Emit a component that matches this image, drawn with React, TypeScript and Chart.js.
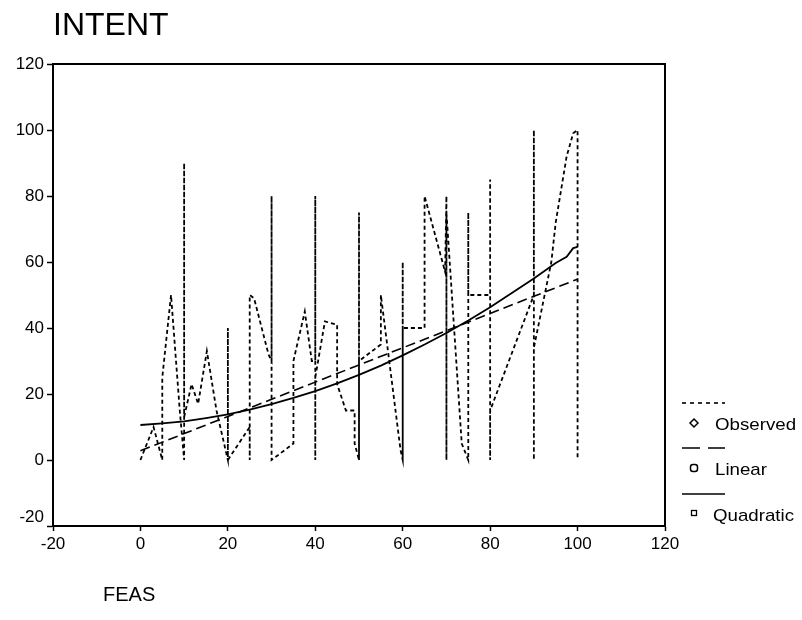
import React, { useEffect, useRef } from 'react';
import { Chart, registerables } from 'chart.js';
Chart.register(...registerables);

// Observed points (FEAS, INTENT), in plotting order
const obsX = [0, 3, 5, 5, 7, 9, 10, 10, 10, 11.7, 13.2, 15.2, 17.4, 20, 20, 20, 25, 25, 25, 26, 29.3, 30, 30, 30, 35, 35, 37.6, 39.2, 40, 40, 40, 40, 42.2, 45, 45, 47, 49, 49, 50, 50, 50, 50, 55, 55, 59.5, 60, 60, 60, 60, 65, 65, 69.7, 70, 70, 70, 72.7, 73.5, 75, 75, 75, 79, 80, 80, 80, 80, 90, 90, 90, 90, 94, 95, 97.5, 99, 100, 100];
const obsY = [0, 10, 0, 25, 50, 15, 0, 90, 13, 23, 17, 33, 15, 0, 40, 0, 10, 0, 50, 49, 32, 30, 80, 0, 5, 30, 45, 30, 30, 80, 0, 25, 42, 41, 23, 15, 15, 5, 0, 75, 0, 30, 35, 50, 3, 0, 60, 0, 40, 40, 80, 57, 80, 0, 75, 21, 5, 0, 75, 50, 50, 50, 85, 0, 15, 50, 100, 0, 34, 60, 72, 92, 99, 100, 0];

// Linear fit
const linX = [0, 10, 20, 30, 40, 50, 60, 70, 80, 90, 100];
const linY = [2.8, 8.0, 13.2, 18.4, 23.6, 28.8, 34.0, 39.2, 44.4, 49.6, 54.8];

// Quadratic fit
const quadX = [0, 5, 10, 15, 20, 25, 30, 35, 40, 45, 50, 55, 60, 65, 70, 75, 80, 90, 95, 97.5, 99, 100];
const quadY = [10.6, 11.1, 11.7, 12.7, 13.8, 15.3, 16.9, 18.8, 20.9, 23.2, 25.8, 28.6, 31.7, 35.0, 38.5, 42.3, 46.3, 55.0, 59.7, 61.6, 64.2, 64.6];

const xTicks = [-20, 0, 20, 40, 60, 80, 100, 120];
const yTicks = [-20, 0, 20, 40, 60, 80, 100, 120];
const legendLabels = ['Observed', 'Linear', 'Quadratic'];
const yTitle = 'INTENT';
const xTitle = 'FEAS';

const FONT = 'Arial, "Liberation Sans", sans-serif';

export default function App() {
  const ref = useRef<HTMLCanvasElement | null>(null);

  useEffect(() => {
    if (!ref.current) return;
    const toPts = (xs: number[], ys: number[]) => xs.map((x, i) => ({ x, y: ys[i] }));

    const framePlugin = {
      id: 'frame',
      afterDraw(chart: any) {
        const { ctx, chartArea: a } = chart;
        const yScale = chart.scales.y;
        ctx.save();
        ctx.strokeStyle = '#000';
        ctx.lineWidth = 2;
        ctx.setLineDash([]);
        ctx.beginPath();
        ctx.moveTo(a.left, a.top);
        ctx.lineTo(a.right, a.top);
        ctx.lineTo(a.right, a.bottom);
        ctx.stroke();

        ctx.fillStyle = '#000';
        // lowest y tick label, lifted above the x-axis corner
        ctx.font = `17px ${FONT}`;
        ctx.textAlign = 'right';
        ctx.textBaseline = 'middle';
        ctx.fillText(String(yTicks[0]), a.left - 9, yScale.getPixelForValue(yTicks[0]) - 9);

        ctx.textAlign = 'left';
        ctx.textBaseline = 'alphabetic';
        ctx.font = `32px ${FONT}`;
        ctx.fillText(yTitle, 53, 35);
        ctx.font = `20px ${FONT}`;
        ctx.fillText(xTitle, 103, 601);

        // legend
        const lx0 = 682, lx1 = 725;
        const styles = [[4, 4], [18, 8], []];
        const lineYs = [403, 448, 494];
        const textYs = [424, 469, 515];
        ctx.lineWidth = 1.6;
        for (let i = 0; i < 3; i++) {
          ctx.setLineDash(styles[i]);
          ctx.beginPath();
          ctx.moveTo(lx0, lineYs[i]);
          ctx.lineTo(lx1, lineYs[i]);
          ctx.stroke();
        }
        ctx.setLineDash([]);
        ctx.lineWidth = 1.5;
        // diamond
        ctx.beginPath();
        ctx.moveTo(694, 423 - 4);
        ctx.lineTo(698, 423);
        ctx.lineTo(694, 423 + 4);
        ctx.lineTo(690, 423);
        ctx.closePath();
        ctx.stroke();
        // rounded square
        ctx.beginPath();
        (ctx as any).roundRect(690.5, 464.5, 7, 7, 2.5);
        ctx.stroke();
        // small square
        ctx.lineWidth = 1.3;
        ctx.strokeRect(691.5, 510.5, 5, 5);

        ctx.font = `17px ${FONT}`;
        ctx.textBaseline = 'middle';
        const lxs = [715, 715, 713];
        for (let i = 0; i < 3; i++) {
          ctx.save();
          ctx.translate(lxs[i], textYs[i] + 1);
          ctx.scale(1.1, 1);
          ctx.fillText(legendLabels[i], 0, 0);
          ctx.restore();
        }
        ctx.restore();
      },
    };

    const tickFont = { family: FONT, size: 17 };

    const chart = new Chart(ref.current, {
      type: 'scatter',
      data: {
        datasets: [
          {
            label: legendLabels[0],
            data: toPts(obsX, obsY),
            showLine: true,
            borderColor: '#000',
            borderWidth: 1.8,
            borderDash: [4, 3],
            pointRadius: 0,
            tension: 0,
          },
          {
            label: legendLabels[1],
            data: toPts(linX, linY),
            showLine: true,
            borderColor: '#000',
            borderWidth: 1.6,
            borderDash: [10, 5],
            pointRadius: 0,
          },
          {
            label: legendLabels[2],
            data: toPts(quadX, quadY),
            showLine: true,
            borderColor: '#000',
            borderWidth: 1.8,
            pointRadius: 0,
          },
        ],
      },
      options: {
        responsive: false,
        animation: false,
        layout: { padding: { left: 0, top: 64, right: 137, bottom: 54 } },
        plugins: {
          legend: { display: false },
          tooltip: { enabled: false },
          title: { display: false },
        },
        scales: {
          x: {
            type: 'linear',
            min: -20,
            max: 120,
            afterBuildTicks: (s: any) => { s.ticks = xTicks.map((v) => ({ value: v })); },
            afterFit: (s: any) => { s.height = 40; },
            ticks: { color: '#000', font: tickFont, padding: 3, maxRotation: 0, autoSkip: false },
            grid: { display: true, drawOnChartArea: false, drawTicks: true, tickLength: 5, color: '#000', tickColor: '#000', tickWidth: 1.5 },
            border: { display: true, color: '#000', width: 2 },
          },
          y: {
            type: 'linear',
            min: -20,
            max: 120,
            afterBuildTicks: (s: any) => { s.ticks = yTicks.map((v) => ({ value: v })); },
            afterFit: (s: any) => { s.width = 53; },
            ticks: {
              color: '#000',
              font: tickFont,
              padding: 3,
              autoSkip: false,
              callback: (v: any) => (v === yTicks[0] ? '' : String(v)),
            },
            grid: { display: true, drawOnChartArea: false, drawTicks: true, tickLength: 6, color: '#000', tickColor: '#000', tickWidth: 1.5 },
            border: { display: true, color: '#000', width: 2 },
          },
        },
      },
      plugins: [framePlugin],
    } as any);

    return () => chart.destroy();
  }, []);

  return (
    <div style={{ position: 'fixed', left: 0, top: 0, width: 802, height: 620, background: '#fff' }}>
      <canvas ref={ref} width={802} height={620} style={{ display: 'block' }} />
    </div>
  );
}
